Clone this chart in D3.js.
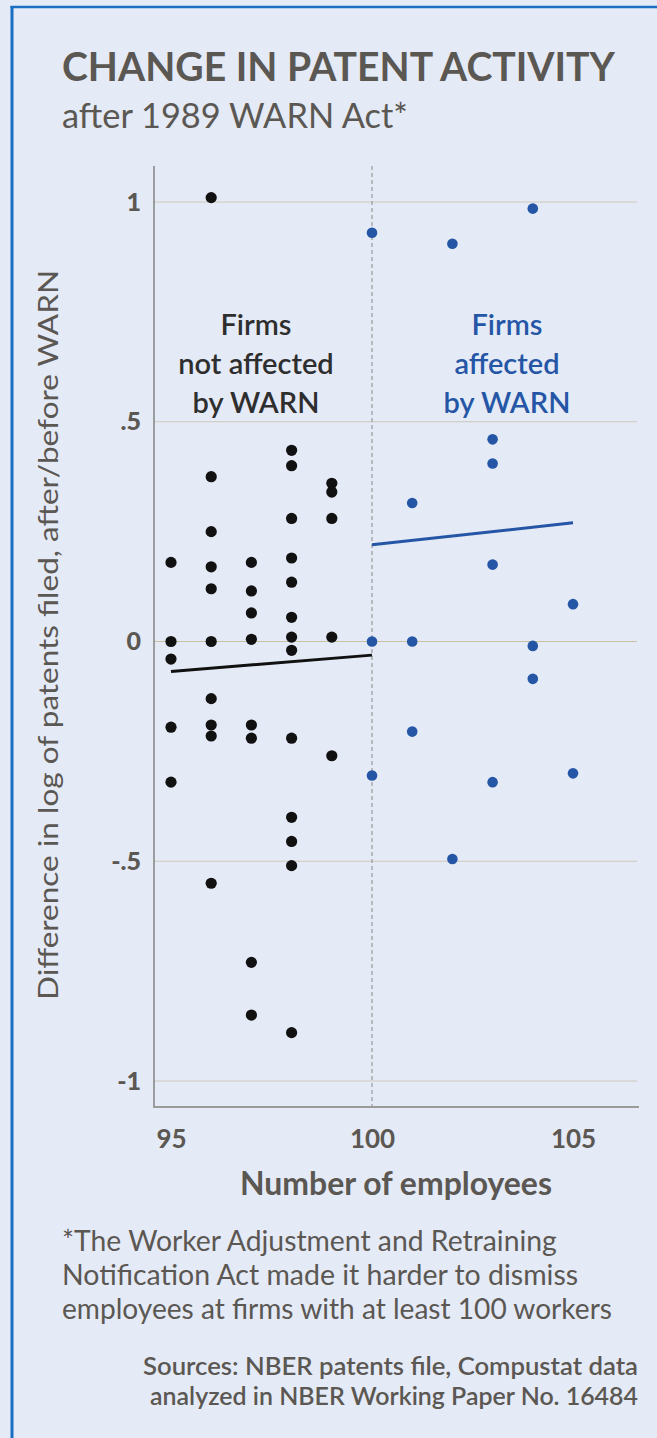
<!DOCTYPE html>
<html>
<head>
<meta charset="utf-8">
<script src="https://cdn.jsdelivr.net/npm/d3@7"></script>
<style>
html,body{margin:0;padding:0;background:#e4eaf6;}
svg{display:block;}
text{font-family:Lato,"Noto Sans",sans-serif;}
</style>
</head>
<body>
<svg id="chart" width="657" height="1438"></svg>
<script>
// ---- data ----
const notAffectedX = [95,95,95,95,95,
  96,96,96,96,96,96,96,96,96,96,
  97,97,97,97,97,97,97,97,
  98,98,98,98,98,98,98,98,98,98,98,98,98,
  99,99,99,99,99];
const notAffectedY = [0.18,0,-0.04,-0.195,-0.32,
  1.01,0.375,0.25,0.17,0.12,0,-0.13,-0.19,-0.215,-0.55,
  0.18,0.115,0.065,0.005,-0.19,-0.22,-0.73,-0.85,
  0.435,0.40,0.28,0.19,0.135,0.055,0.01,-0.02,-0.22,-0.40,-0.455,-0.51,-0.89,
  0.36,0.34,0.28,0.01,-0.26];
const affectedX = [100,100,100,101,101,101,102,102,103,103,103,103,104,104,104,105,105];
const affectedY = [0.93,0,-0.305,0.315,0,-0.205,0.905,-0.495,0.46,0.405,0.175,-0.32,0.985,-0.01,-0.085,0.085,-0.30];
const fitNotAffectedX = [95,100];
const fitNotAffectedY = [-0.068,-0.031];
const fitAffectedX = [100,105];
const fitAffectedY = [0.22,0.27];
const xTicks = [95,100,105];
const yTicks = [1,0.5,0,-0.5,-1];
const yTickLabels = ["1",".5","0","-.5","-1"];
const cutoff = 100;

// ---- layout ----
const svg = d3.select("#chart");
const plotLeft = 154, plotRight = 639, plotTop = 166, plotBottom = 1107;
const x = d3.scaleLinear().domain([95,105]).range([171,573]);
const y = d3.scaleLinear().domain([-1,1]).range([1081,202]);
const gray = "#5b5752";
const blue = "#2556a6";

// frame (left and top edges only visible)
svg.append("rect").attr("x",0).attr("y",0).attr("width",657).attr("height",1438).attr("fill","#e4eaf6");
svg.append("line").attr("x1",12).attr("x2",12).attr("y1",6).attr("y2",1438)
  .attr("stroke","#1b6fc2").attr("stroke-width",3);
svg.append("line").attr("x1",10.5).attr("x2",657).attr("y1",7).attr("y2",7)
  .attr("stroke","#1b6fc2").attr("stroke-width",2.5);

function fit(sel, w){
  const n = sel.node();
  const cur = parseFloat(sel.attr("font-size"));
  const len = n.getComputedTextLength();
  if (len>0) sel.attr("font-size", (cur*w/len).toFixed(2));
  return sel;
}

// title
fit(svg.append("text").attr("x",62).attr("y",81).attr("font-size",31).attr("font-weight",700)
  .attr("fill",gray).text("CHANGE IN PATENT ACTIVITY"),553);
fit(svg.append("text").attr("x",62).attr("y",128).attr("font-size",28).attr("font-weight",400)
  .attr("fill",gray).text("after 1989 WARN Act*"),346);

// gridlines
svg.append("g").selectAll("line").data(yTicks).join("line")
  .attr("x1",plotLeft).attr("x2",637)
  .attr("y1",d=>y(d)).attr("y2",d=>y(d))
  .attr("stroke",d=>d===0?"#c9c0a0":"#cdc8bc").attr("stroke-width",1.2);

// cutoff dashed line
svg.append("line").attr("x1",x(cutoff)).attr("x2",x(cutoff))
  .attr("y1",plotTop).attr("y2",plotBottom)
  .attr("stroke","#999").attr("stroke-width",1.2).attr("stroke-dasharray","4,3");

// axes
const yAxis = d3.axisLeft(y).tickValues(yTicks).tickFormat((d,i)=>yTickLabels[i]).tickSize(0).tickPadding(13);
const gy = svg.append("g").attr("transform",`translate(${plotLeft},0)`).call(yAxis);
gy.select(".domain").remove();
gy.selectAll("text").attr("font-size",25).attr("font-weight",900).attr("fill",gray)
  .attr("font-family","Lato,sans-serif");
svg.append("line").attr("x1",plotLeft).attr("x2",plotLeft).attr("y1",plotTop).attr("y2",plotBottom+1)
  .attr("stroke","#8a8a8a").attr("stroke-width",1.6);

const xAxis = d3.axisBottom(x).tickValues(xTicks).tickFormat(d3.format("d")).tickSize(0).tickPadding(23);
const gx = svg.append("g").attr("transform",`translate(0,${plotBottom})`).call(xAxis);
gx.select(".domain").remove();
gx.selectAll("text").attr("font-size",26).attr("font-weight",700).attr("fill",gray)
  .attr("font-family","Lato,sans-serif");
svg.append("line").attr("x1",plotLeft).attr("x2",plotRight).attr("y1",plotBottom).attr("y2",plotBottom)
  .attr("stroke","#9a9a9a").attr("stroke-width",2);

// axis titles
fit(svg.append("text").attr("x",396).attr("y",1195).attr("text-anchor","middle")
  .attr("font-size",26).attr("font-weight",700).attr("fill",gray).text("Number of employees"),312);
svg.append("text").attr("transform","translate(58,635) rotate(-90)").attr("text-anchor","middle")
  .attr("font-size",26).attr("fill",gray)
  .attr("textLength",730).attr("lengthAdjust","spacingAndGlyphs")
  .text("Difference in log of patents filed, after/before WARN");

// fit lines
const line = d3.line().x(d=>x(d[0])).y(d=>y(d[1]));
svg.append("path").datum(d3.zip(fitNotAffectedX,fitNotAffectedY)).attr("d",line)
  .attr("stroke","#111").attr("stroke-width",3).attr("fill","none");
svg.append("path").datum(d3.zip(fitAffectedX,fitAffectedY)).attr("d",line)
  .attr("stroke",blue).attr("stroke-width",3).attr("fill","none");

// points
svg.append("g").selectAll("circle").data(d3.zip(notAffectedX,notAffectedY)).join("circle")
  .attr("cx",d=>x(d[0])).attr("cy",d=>y(d[1])).attr("r",5.6).attr("fill","#111");
svg.append("g").selectAll("circle").data(d3.zip(affectedX,affectedY)).join("circle")
  .attr("cx",d=>x(d[0])).attr("cy",d=>y(d[1])).attr("r",5.3).attr("fill",blue);

// annotations
const ann1 = ["Firms","not affected","by WARN"];
const ann2 = ["Firms","affected","by WARN"];
const annSize = 29;
const a1 = svg.append("g");
ann1.forEach((t,i)=>a1.append("text").attr("x",256).attr("y",335+i*39).attr("text-anchor","middle")
  .attr("font-size",annSize).attr("font-weight",600).attr("fill","#2e2e2e").text(t));
const a2 = svg.append("g");
ann2.forEach((t,i)=>a2.append("text").attr("x",507).attr("y",335+i*39).attr("text-anchor","middle")
  .attr("font-size",annSize).attr("font-weight",600).attr("fill",blue).text(t));

// footnote
const foot = ["*The Worker Adjustment and Retraining","Notification Act made it harder to dismiss","employees at firms with at least 100 workers"];
const fw = [495,516,550];
foot.forEach((t,i)=>{
  const s = svg.append("text").attr("x",62).attr("y",1251+i*34).attr("font-size",24).attr("fill",gray).text(t);
  fit(s,fw[i]);
});
// sources
const src = ["Sources: NBER patents file, Compustat data","analyzed in NBER Working Paper No. 16484"];
const sw = [495,488];
src.forEach((t,i)=>{
  const s = svg.append("text").attr("x",638).attr("y",1375+i*30).attr("text-anchor","end")
    .attr("font-size",21).attr("font-weight",600).attr("fill",gray).text(t);
  fit(s,sw[i]);
});
</script>
</body>
</html>
